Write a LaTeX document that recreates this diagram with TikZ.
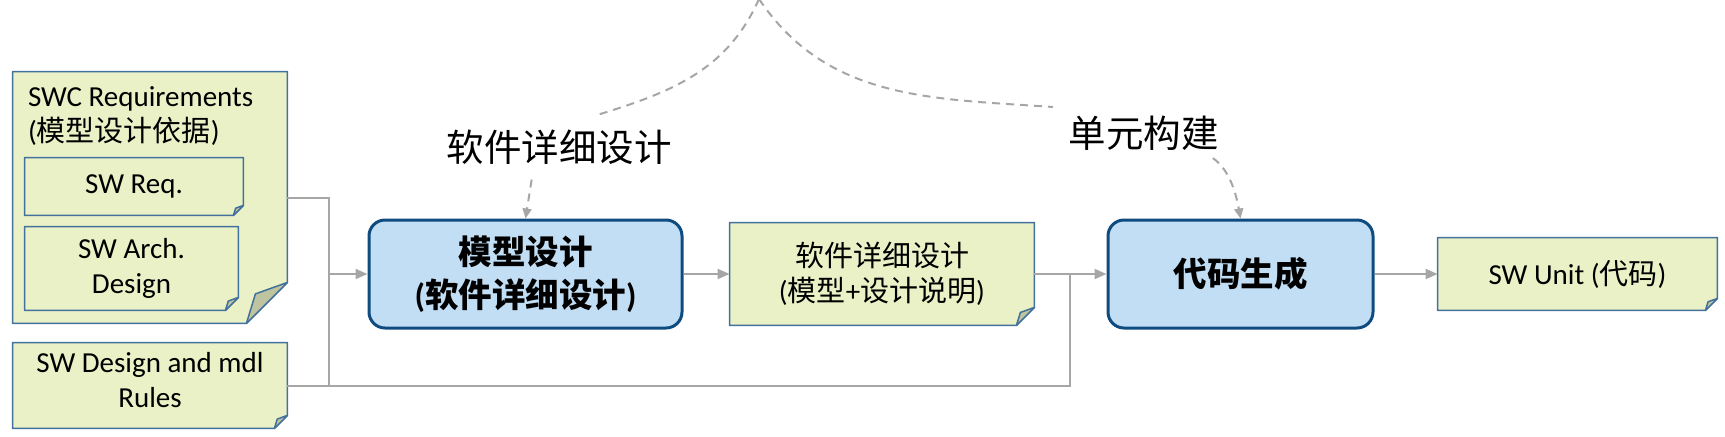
\documentclass[tikz,border=0pt]{standalone}
\usepackage{fontspec}
\setmainfont{Carlito}
\newfontfamily\zh{Noto Sans CJK SC}
\usetikzlibrary{arrows.meta,positioning,backgrounds}

\definecolor{notefill}{HTML}{EBF1C6}
\definecolor{foldfill}{HTML}{BEC3A0}
\definecolor{noteedge}{HTML}{41719C}
\definecolor{stepfill}{HTML}{C2DEF5}
\definecolor{stepedge}{HTML}{0E4C80}
\definecolor{linegray}{HTML}{A6A6A6}

\tikzstyle{Note} = [rectangle, inner sep=0pt, align=center, font=\fontsize{14.5}{17.5}\selectfont]
\tikzstyle{Step} = [draw=stepedge, fill=stepfill, line width=1.5pt, rounded corners=8pt, align=center, inner sep=0pt, font=\bfseries\fontsize{16.75}{21.5}\selectfont]
\tikzstyle{Tag} = [inner sep=0pt, font=\zh\fontsize{18.75}{22}\selectfont]
\tikzstyle{Line} = [draw=linegray, line width=1pt]
\tikzstyle{Arrow} = [Line, -{Triangle[length=6pt,width=5pt]}]
\tikzstyle{DashLine} = [draw=linegray, line width=1pt, dash pattern=on 4pt off 3pt]
\tikzstyle{DashArrow} = [DashLine, -{Triangle[length=5pt,width=4.5pt]}]
\tikzstyle{NoteEdge} = [draw=noteedge, line width=0.75pt, line join=round]

% sheet of paper with a folded corner behind a node
\newcommand{\Paper}[2]{%
  \draw[NoteEdge, fill=notefill] (#1.north west) -- (#1.north east) -- ([yshift=#2]#1.south east)
    -- ([xshift=-#2]#1.south east) -- (#1.south west) -- cycle;
  \draw[NoteEdge, fill=foldfill] ([yshift=#2]#1.south east) -- ([shift={(-0.78*#2,0.72*#2)}]#1.south east)
    -- ([xshift=-#2]#1.south east) -- cycle;}

\begin{document}
\begin{tikzpicture}[x=0.5pt, y=-0.5pt]
  \useasboundingbox (0,0) rectangle (1725,436);
  % inputs
  \node[Note, minimum width=137pt, minimum height=125.5pt] (req) at (150,197.5) {};
  \node[Note, anchor=west, align=left] (reqtitle) at ([shift={(7.5pt,-22.25pt)}]req.north west) {SWC Requirements\\({\zh 模型设计依据})};
  \node[Note, minimum width=109pt, minimum height=28.5pt] (swreq) at (134,186.5) {SW Req.};
  \node[Note, minimum width=106.5pt, minimum height=41.5pt] (swarch) at (131.5,268.5) {SW Arch.\\Design};
  \node[Note, minimum width=137pt, minimum height=42.5pt] (rules) at (150,385.5) {SW Design and mdl\\Rules\\[-12pt]\mbox{}};
  % process
  \node[Step, minimum width=156.5pt, minimum height=54pt] (model) at (525.5,274) {{\zh 模型设计}\\({\zh 软件详细设计})};
  \node[Note, minimum width=152pt, minimum height=51pt] (detail) at (882,274) {{\zh 软件详细设计}\\({\zh 模型}+{\zh 设计说明})};
  \node[Step, minimum width=132.5pt, minimum height=54pt] (codegen) at (1240.5,274) {{\zh 代码生成}};
  \node[Note, minimum width=139.5pt, minimum height=36pt] (unit) at (1577.5,274) {SW Unit ({\zh 代码})};
  % activities
  \node[Tag] (tagdesign) at (559,147) {软件详细设计};
  \node[Tag] (tagbuild) at (1143.5,133.5) {单元构建};

  \begin{scope}[on background layer]
    \Paper{req}{20.5pt}
    \Paper{swreq}{5pt}
    \Paper{swarch}{6.5pt}
    \Paper{rules}{6.5pt}
    \Paper{detail}{9pt}
    \Paper{unit}{6pt}
  \end{scope}

  \coordinate (joinL) at (329,274);
  \coordinate (joinR) at (1070,274);
  \draw[Line] (req.east) -| (joinL);
  \draw[Line] (rules.east) -| (joinL);
  \draw[Line] (rules.east) -| (joinR);
  \draw[Arrow] (joinL) -- (model.west);
  \draw[Arrow] (model) -- (detail);
  \draw[Arrow] (detail) -- (codegen);
  \draw[Arrow] (codegen) -- (unit);

  \coordinate (cusp) at (759,-1);
  \coordinate (endL) at (597,115);
  \coordinate (endR) at (1053,107);
  \draw[DashLine] (cusp) to[out=-114,in=17] (endL);
  \draw[DashLine] (cusp) to[out=-56,in=176] (endR);
  \draw[DashArrow, shorten <=7.5pt] ([xshift=-12.5pt]tagdesign.south) -- (model.north);
  \draw[DashArrow, shorten <=6pt] ([xshift=29.75pt]tagbuild.south) to[out=-35,in=100] (codegen.north);
\end{tikzpicture}
\end{document}
